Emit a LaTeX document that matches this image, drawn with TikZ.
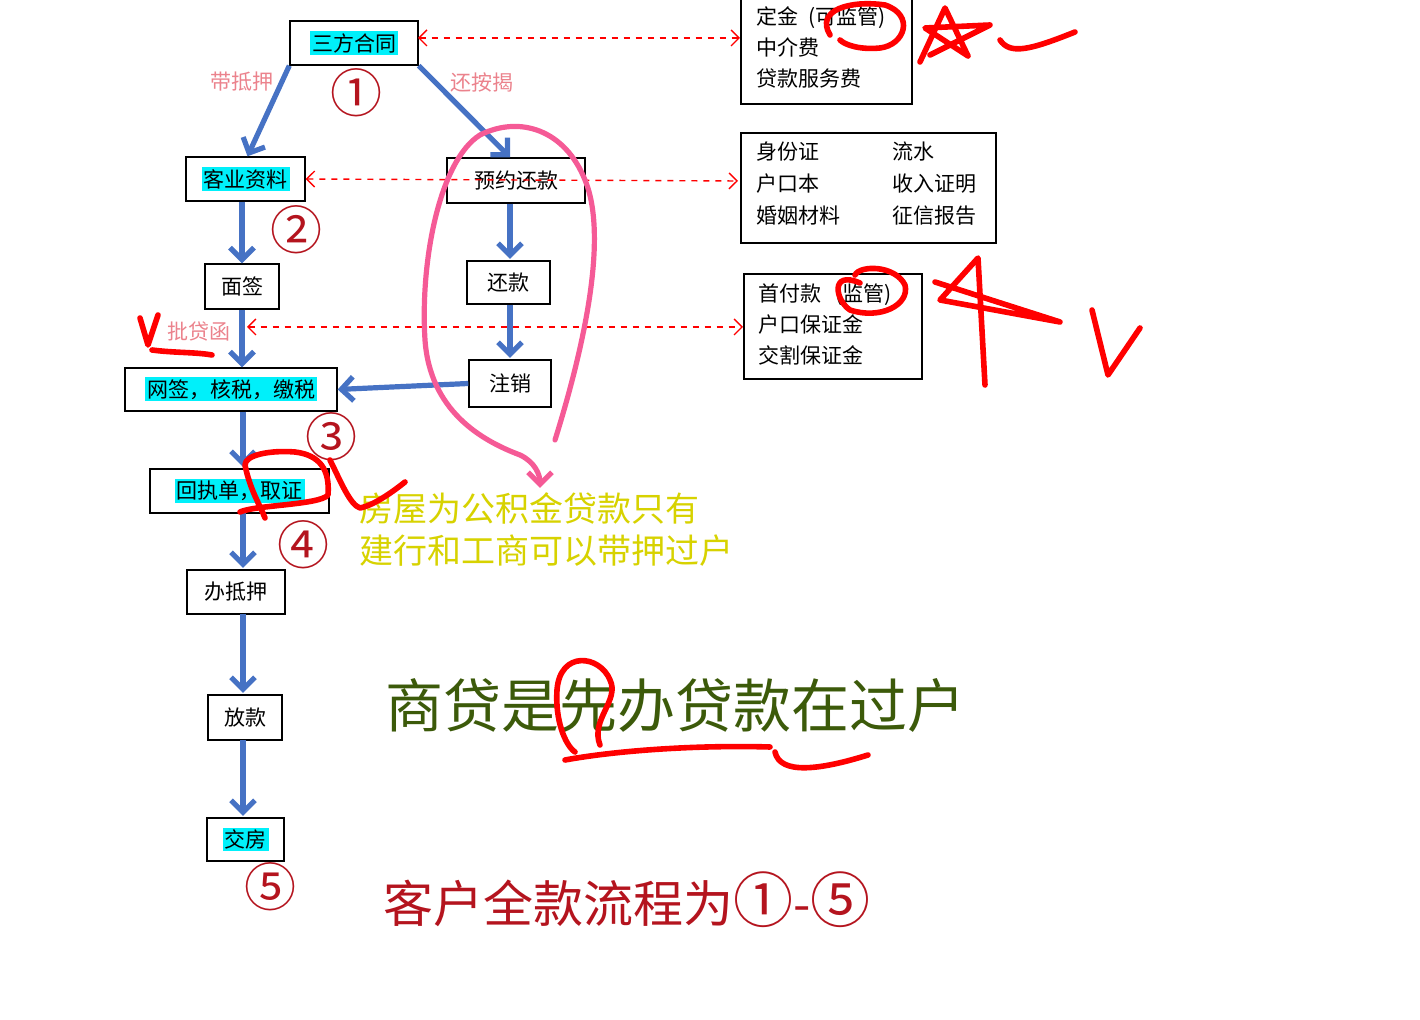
\documentclass[tikz,border=0pt]{standalone}
\usepackage{fontspec}
\setmainfont{Noto Sans CJK SC}
\usetikzlibrary{arrows.meta}
\definecolor{bl}{RGB}{70,114,196}
\definecolor{dred}{RGB}{180,20,30}
\definecolor{pk}{RGB}{235,130,140}
\definecolor{hl}{RGB}{0,240,250}
\definecolor{ylw}{RGB}{215,210,0}
\definecolor{grn}{RGB}{60,90,10}
\definecolor{pinkloop}{RGB}{245,90,150}
\begin{document}
\begin{tikzpicture}[x=0.5pt,y=-0.5pt,
 bx/.style={draw,line width=0.7pt,inner sep=0pt,font=\fontsize{10.5}{12}\selectfont},
 hi/.style={fill=hl,inner sep=1pt,font=\fontsize{10.5}{12}\selectfont},
 barr/.style={bl,line width=2.6pt,-{Straight Barb[length=6pt,width=12pt,line width=2.6pt]}},
 darr/.style={red,dashed,line width=0.7pt,{Straight Barb[length=4pt,width=8pt]}-{Straight Barb[length=4pt,width=8pt]}},
 circ/.style={dred,font=\fontsize{26}{28}\selectfont},
 lab/.style={pk,font=\fontsize{10.5}{12}\selectfont},
 hand/.style={red,line width=2.8pt,line cap=round,line join=round}]
\useasboundingbox (0,0) rectangle (1420,1020);
% boxes
\node[bx,minimum width=64pt,minimum height=22pt] (a) at (354,43) {};
\node[hi] at (a) {三方合同};
\node[bx,minimum width=59.5pt,minimum height=22pt] (b) at (245.5,179) {};
\node[hi] at (b) {客业资料};
\node[bx,minimum width=69pt,minimum height=22.5pt] (c) at (516,180.5) {预约还款};
\node[bx,minimum width=37pt,minimum height=22.5pt] (d) at (242,286.5) {面签};
\node[bx,minimum width=41.5pt,minimum height=21.5pt] (e) at (508.5,282.5) {还款};
\node[bx,minimum width=106pt,minimum height=21.5pt] (f) at (231,389.5) {};
\node[hi] at (f) {网签，核税，缴税};
\node[bx,minimum width=41pt,minimum height=23.5pt] (g) at (510,383.5) {注销};
\node[bx,minimum width=89.5pt,minimum height=22pt] (h) at (239.5,491) {};
\node[hi] at (h) {回执单，取证};
\node[bx,minimum width=49pt,minimum height=22pt] (i) at (236,592) {办抵押};
\node[bx,minimum width=37pt,minimum height=22.5pt] (j) at (245,717.5) {放款};
\node[bx,minimum width=38.5pt,minimum height=21.5pt] (k) at (245.5,839.5) {};
\node[hi] at (k) {交房};
% right boxes
\draw[line width=0.7pt] (741,-2) rectangle (912,104);
\node[bx,draw=none,anchor=north west,align=left,font=\fontsize{10.5}{15.5}\selectfont] (r1) at (756,6) {定金\ \ (可监管)\\中介费\\贷款服务费};
\coordinate (r1w) at (740,38);
\coordinate (ae) at (418,38);
\draw[line width=0.7pt] (741,133) rectangle (996,243);
\node[bx,draw=none,anchor=north west,align=left,font=\fontsize{10.5}{16}\selectfont] (r2a) at (756,141) {身份证\\户口本\\婚姻材料};
\node[bx,draw=none,anchor=north west,align=left,font=\fontsize{10.5}{16}\selectfont] (r2b) at (892,141) {流水\\收入证明\\征信报告};
\coordinate (r2w) at (738,181);
\draw[line width=0.7pt] (744,274) rectangle (922,379);
\node[bx,draw=none,anchor=north west,align=left,font=\fontsize{10.5}{15.5}\selectfont] (r3) at (758,283) {首付款\ \ \ (监管)\\户口保证金\\交割保证金};
\coordinate (r3w) at (743,327);
\coordinate (p3) at (247,327);
% dashed
\draw[darr] (ae) -- (r1w);
\draw[darr] (b.east) -- (r2w);
\draw[darr] (p3) -- (r3w);
% blue arrows
\draw[barr] (a.south west) -- ([xshift=1pt]b.north);
\draw[barr] (a.south east) -- ([xshift=-3pt]c.north);
\draw[barr] (b.south -| d.north) -- (d.north);
\draw[barr] (d.south) -- (d.south |- f.north);
\draw[barr] (f.south -| 243,0) -- (243,467);
\draw[barr] (243,513) -- (243,568);
\draw[barr] (243,614) -- (243,693);
\draw[barr] (243,740) -- (243,816);
\draw[barr] (c.south -| 510,0) -- (510,259);
\draw[barr] (e.south -| 510,0) -- (510,358);
\draw[barr] (g.west) -- (f.east);
% labels
\node[lab] at (242,82) {带抵押};
\node[lab] at (482,82) {还按揭};
\node[lab] at (199,332) {批贷函};
\node[circ] at (356,93) {①};
\node[circ] at (296,230) {②};
\node[circ] at (331,437) {③};
\node[circ] at (303,545) {④};
\node[circ] at (270,887) {⑤};
\node[ylw,anchor=west,align=left,font=\fontsize{17}{21}\selectfont] at (352,530) {房屋为公积金贷款只有\\建行和工商可以带押过户};
\node[grn,anchor=west,font=\fontsize{29}{30}\selectfont] at (378,705) {商贷是先办贷款在过户};
\node[dred,anchor=west,font=\fontsize{25}{26}\selectfont] at (376,900) {客户全款流程为{\fontsize{30}{32}\selectfont ①}-{\fontsize{30}{32}\selectfont ⑤}};
% pink loop
\draw[pinkloop,line width=2.6pt,line cap=round,-{Straight Barb[length=6pt,width=12pt,line width=2.6pt]}]
 (555,440) .. controls (580,360) and (610,240) .. (585,180) .. controls (565,130) and (520,115) .. (480,135)
 .. controls (440,160) and (420,260) .. (425,340) .. controls (430,410) and (480,440) .. (520,455)
 .. controls (535,462) and (540,475) .. (540,488);
% red hand marks
\draw[hand] (830,35) .. controls (815,10) and (850,0) .. (885,5) .. controls (915,15) and (905,45) .. (880,48) .. controls (860,50) and (845,45) .. (840,40);
\draw[hand] (920,62) -- (945,8) -- (968,56) -- (925,28) -- (990,25) -- (930,55);
\draw[hand] (1000,40) .. controls (1010,55) and (1030,50) .. (1075,32);
\draw[hand] (860,283) .. controls (830,270) and (835,300) .. (850,310) .. controls (880,320) and (910,305) .. (905,285) .. controls (895,265) and (860,265) .. (855,275);
\draw[hand] (985,385) -- (978,258) -- (940,300) -- (1060,322) -- (935,282);
\draw[hand] (1092,310) -- (1108,375) -- (1140,328);
\draw[hand] (140,318) -- (148,345) -- (158,315);
\draw[hand] (152,350) .. controls (175,353) and (195,352) .. (212,355);
\draw[hand] (240,512) .. controls (255,505) and (320,505) .. (328,495) .. controls (330,470) and (320,455) .. (295,452) .. controls (270,450) and (245,455) .. (245,465) .. controls (250,490) and (260,505) .. (265,518);
\draw[hand] (330,460) .. controls (340,480) and (350,505) .. (360,508) .. controls (375,505) and (395,490) .. (405,482);
\draw[hand] (600,745) .. controls (590,720) and (620,700) .. (610,680) .. controls (600,655) and (560,650) .. (557,690) .. controls (555,720) and (565,745) .. (575,752);
\draw[hand] (565,760) .. controls (620,750) and (700,745) .. (770,747);
\draw[hand] (775,752) .. controls (780,775) and (820,770) .. (868,755);
\end{tikzpicture}
\end{document}
